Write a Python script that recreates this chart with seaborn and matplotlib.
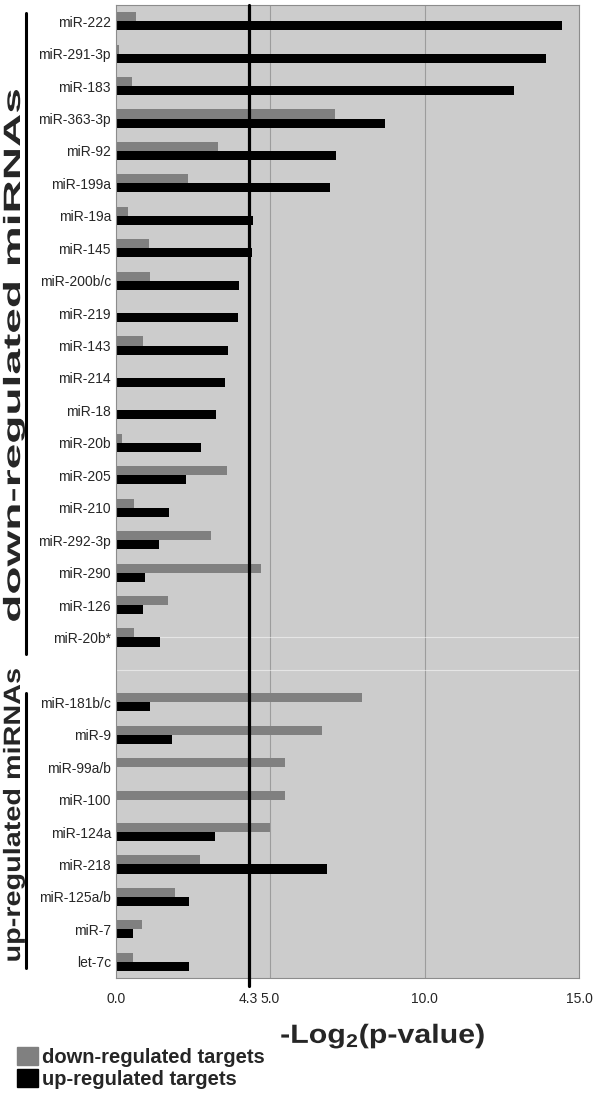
import numpy as np
import pandas as pd
import matplotlib
matplotlib.use("Agg")
import matplotlib.pyplot as plt
import seaborn as sns

from matplotlib.patches import Patch
from matplotlib.lines import Line2D
from matplotlib.patheffects import AbstractPathEffect
from matplotlib.transforms import Affine2D, blended_transform_factory


# miRNA groups, top to bottom
down_mirnas = ["miR-222", "miR-291-3p", "miR-183", "miR-363-3p", "miR-92",
               "miR-199a", "miR-19a", "miR-145", "miR-200b/c", "miR-219",
               "miR-143", "miR-214", "miR-18", "miR-20b", "miR-205",
               "miR-210", "miR-292-3p", "miR-290", "miR-126", "miR-20b*"]
up_mirnas = ["miR-181b/c", "miR-9", "miR-99a/b", "miR-100", "miR-124a",
             "miR-218", "miR-125a/b", "miR-7", "let-7c"]

# -log2(p-value), grey = down-regulated targets, black = up-regulated targets
down_mir_down_targets = [0.65, 0.11, 0.51, 7.09, 3.29, 2.34, 0.40, 1.06, 1.09, 0.0,
                         0.87, 0.0, 0.0, 0.18, 3.60, 0.57, 3.07, 4.69, 1.67, 0.57]
down_mir_up_targets = [14.44, 13.93, 12.90, 8.70, 7.12, 6.92, 4.45, 4.42, 3.98, 3.94,
                       3.62, 3.54, 3.25, 2.74, 2.26, 1.71, 1.39, 0.95, 0.86, 1.41]
up_mir_down_targets = [7.97, 6.67, 5.47, 5.47, 4.99, 2.71, 1.92, 0.83, 0.54]
up_mir_up_targets = [1.09, 1.82, 0.0, 0.0, 3.20, 6.84, 2.37, 0.54, 2.35]

series_labels = ["down-regulated targets", "up-regulated targets"]
group_labels = ["down-regulated miRNAs", "up-regulated miRNAs"]

THRESHOLD = 4.3
XTICKS = [0, THRESHOLD, 5, 10, 15]
GRID_X = [5, 10]

GREY = "#808080"
BG = "#cccccc"
FRAME = "#8c8c8c"


class Stretch(AbstractPathEffect):
    # draws the text stretched by sx, sy around its anchor
    def __init__(self, sx=1.0, sy=1.0):
        super().__init__()
        self.sx = sx
        self.sy = sy
        self.text = None

    def draw_path(self, renderer, gc, tpath, affine, rgbFace=None):
        cx, cy = self.text.get_transform().transform(self.text.get_position())
        st = Affine2D().translate(-cx, -cy).scale(self.sx, self.sy).translate(cx, cy)
        renderer.draw_path(gc, tpath, affine + st, rgbFace)


def stretched_text(fig, x, y, s, sx=1.0, sy=1.0, **kw):
    eff = Stretch(sx, sy)
    t = fig.text(x, y, s, path_effects=[eff], **kw)
    eff.text = t
    return t


def main():

    sns.set_style("white")
    plt.rcParams["font.family"] = ["Liberation Sans", "DejaVu Sans"]
    plt.rcParams["mathtext.fontset"] = "custom"
    plt.rcParams["mathtext.rm"] = "Liberation Sans:bold"
    plt.rcParams["mathtext.default"] = "rm"

    mirnas = down_mirnas + up_mirnas
    df = pd.DataFrame({
        "mirna": mirnas * 2,
        "score": down_mir_down_targets + up_mir_down_targets
                 + down_mir_up_targets + up_mir_up_targets,
        "targets": [series_labels[0]] * len(mirnas) + [series_labels[1]] * len(mirnas),
    })

    # one empty slot between the two groups
    order = down_mirnas + [""] + up_mirnas

    fig = plt.figure(figsize=(6, 11), dpi=100)
    ax = fig.add_axes([116 / 600, 1 - 978 / 1100, 463 / 600, 973 / 1100])
    ax.set_facecolor(BG)

    sns.barplot(
        data=df, x="score", y="mirna", hue="targets",
        order=order, hue_order=series_labels,
        palette=[GREY, "black"], saturation=1,
        width=0.56, orient="h", errorbar=None,
        linewidth=0, legend=False, ax=ax, zorder=2
    )

    for gx in GRID_X:
        ax.axvline(gx, color="#9c9c9c", lw=0.8, zorder=1)

    for name in ["miR-20b*", ""]:
        ax.axhline(order.index(name), color="white", lw=0.8, alpha=0.5, zorder=1.5)

    ax.axvline(THRESHOLD, ymin=-0.008, ymax=1, color="black", lw=2.3,
               zorder=4, clip_on=False)

    ax.set_xlim(0, 15)
    ax.set_xticks(XTICKS)
    ax.set_xticklabels([f"{t:.1f}" for t in XTICKS])
    ax.tick_params(axis="x", length=3, color=FRAME, width=0.8, pad=7, labelsize=10)

    ax.set_yticks(np.arange(len(order) + 1) - 0.5, minor=True)
    ax.tick_params(axis="y", which="major", length=0, pad=3.6, labelsize=10)
    ax.tick_params(axis="y", which="minor", length=3, color="#707070", width=0.8)

    ax.set_xlabel("")
    ax.set_ylabel("")

    for sp in ax.spines.values():
        sp.set_color(FRAME)
        sp.set_linewidth(0.8)

    # group brackets on the left
    tr = blended_transform_factory(fig.transFigure, ax.transData)
    spans = [(-0.25, order.index(down_mirnas[-1]) + 0.5),
             (order.index(up_mirnas[0]) - 0.3, order.index(up_mirnas[-1]) + 0.2)]
    for y0, y1 in spans:
        fig.add_artist(Line2D([26 / 600, 26 / 600], [y0, y1], transform=tr,
                              color="black", lw=2.2))

    stretched_text(fig, 13.5 / 600, 1 - 355 / 1100, group_labels[0], sy=1.95,
                   rotation=90, ha="center", va="center",
                   fontsize=17, fontweight="bold")
    stretched_text(fig, 13.5 / 600, 1 - 815 / 1100, group_labels[1], sy=1.22,
                   rotation=90, ha="center", va="center",
                   fontsize=17, fontweight="bold")

    stretched_text(fig, 383 / 600, 1 - 1043 / 1100, r"-Log$_2$(p-value)", sx=1.15,
                   ha="center", va="baseline", fontsize=19, fontweight="bold")

    handles = [Patch(color=GREY), Patch(color="black")]
    fig.legend(
        handles, series_labels,
        loc="upper left", bbox_to_anchor=(17 / 600, 1 - 1047 / 1100),
        frameon=False, borderpad=0, borderaxespad=0,
        handlelength=1.05, handleheight=1.0, handletextpad=0.2,
        labelspacing=0.1, prop={"weight": "bold", "size": 14.5}
    )

    fig.savefig("out.png", dpi=100)
    plt.close(fig)


if __name__ == "__main__":
    main()
